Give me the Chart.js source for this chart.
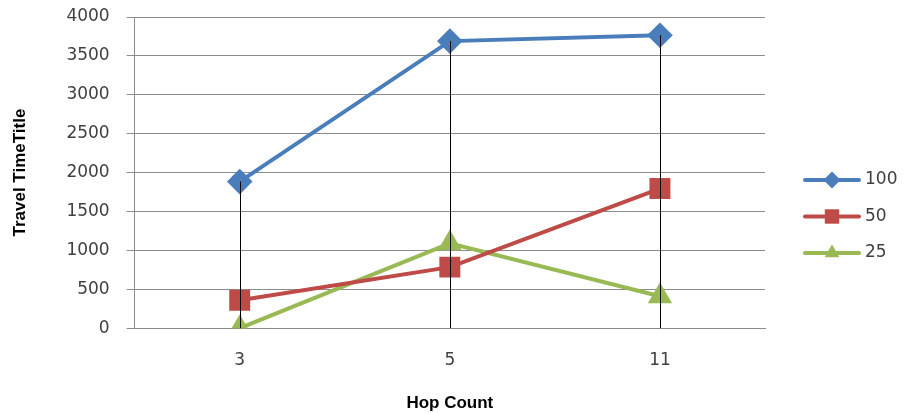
<!DOCTYPE html>
<html>
<head>
<meta charset="utf-8">
<script src="https://cdn.jsdelivr.net/npm/chart.js@4.4.0/dist/chart.umd.min.js"></script>
<style>
  html, body { margin: 0; padding: 0; background: #fff; }
  #wrap { width: 908px; height: 414px; }
</style>
</head>
<body>
<div id="wrap"><canvas id="lineChart" width="908" height="414"></canvas></div>
<script>
// Hop count categories and travel time per series
const hopCounts = ['3', '5', '11'];
const series100 = [1885, 3690, 3765];
const series50 = [360, 785, 1795];
const series25 = [0, 1090, 410];
const seriesNames = ['100', '50', '25'];
const yTicks = [0, 500, 1000, 1500, 2000, 2500, 3000, 3500, 4000];

const tickFont = { family: '"DejaVu Sans", Verdana, sans-serif', size: 17 };
const titleFont = { family: '"Liberation Sans Narrow", "Liberation Sans", Arial, sans-serif', size: 17, weight: 'bold' };

// Drop lines: black vertical line from highest point of each category down to the axis
const dropLines = {
  id: 'dropLines',
  afterDatasetsDraw(chart) {
    const ctx = chart.ctx;
    const x = chart.scales.x, y = chart.scales.y;
    ctx.save();
    ctx.strokeStyle = '#000';
    ctx.lineWidth = 1;
    hopCounts.forEach((c, i) => {
      const top = Math.max(...chart.data.datasets.map(d => d.data[i]));
      const px = Math.round(x.getPixelForValue(i)) + 0.5;
      ctx.beginPath();
      ctx.moveTo(px, y.getPixelForValue(top));
      ctx.lineTo(px, y.getPixelForValue(0));
      ctx.stroke();
    });
    ctx.restore();
  }
};

// Excel style legend: line with marker, then the label
const sideLegend = {
  id: 'sideLegend',
  afterDraw(chart) {
    const ctx = chart.ctx;
    const area = chart.chartArea;
    const x0 = area.right + 40;
    ctx.save();
    chart.data.datasets.forEach((ds, i) => {
      const yy = area.top + 163 + i * 36.5;
      ctx.strokeStyle = ds.borderColor;
      ctx.lineWidth = 4;
      ctx.lineCap = 'round';
      ctx.beginPath();
      ctx.moveTo(x0, yy);
      ctx.lineTo(x0 + 54, yy);
      ctx.stroke();
      ctx.fillStyle = ds.backgroundColor;
      Chart.helpers.drawPoint(ctx, { pointStyle: ds.pointStyle, radius: ds.pointRadius * 0.85, borderWidth: 0, rotation: 0 }, x0 + 27, yy);
      ctx.fillStyle = '#404040';
      ctx.font = tickFont.size + 'px ' + tickFont.family;
      ctx.textBaseline = 'middle';
      ctx.textAlign = 'left';
      ctx.fillText(ds.label, x0 + 60, yy);
    });
    ctx.restore();
  }
};

new Chart(document.getElementById('lineChart').getContext('2d'), {
  type: 'line',
  data: {
    labels: hopCounts,
    datasets: [
      { label: seriesNames[0], data: series100, borderColor: '#4a7ebb', backgroundColor: '#4a7ebb', pointStyle: 'rectRot', pointRadius: 10, borderWidth: 4 },
      { label: seriesNames[1], data: series50, borderColor: '#be4b48', backgroundColor: '#be4b48', pointStyle: 'rect', pointRadius: 12, borderWidth: 4 },
      { label: seriesNames[2], data: series25, borderColor: '#98b954', backgroundColor: '#98b954', pointStyle: 'triangle', pointRadius: 10, borderWidth: 4 }
    ]
  },
  options: {
    responsive: false,
    animation: false,
    layout: { autoPadding: false, padding: { left: 10, top: 17, right: 143, bottom: 0 } },
    elements: { point: { borderWidth: 0, hoverRadius: 10 }, line: { tension: 0 } },
    plugins: { legend: { display: false }, tooltip: { enabled: false } },
    scales: {
      x: {
        offset: true,
        grid: { display: false },
        border: { display: true, color: '#8c8c8c', width: 1 },
        ticks: { font: tickFont, color: '#404040', padding: 14 },
        title: { display: true, text: 'Hop Count', font: titleFont, color: '#000', padding: { top: 9, bottom: 0 } }
      },
      y: {
        min: 0,
        max: 4000,
        afterBuildTicks(scale) { scale.ticks = yTicks.map(v => ({ value: v })); },
        afterFit(scale) { scale.paddingTop = 0; scale.paddingBottom = 0; },
        grid: { color: '#8c8c8c', tickLength: 8, lineWidth: 1 },
        border: { display: true, color: '#8c8c8c' },
        ticks: { font: tickFont, color: '#404040', padding: 17, callback: v => String(v) },
        title: { display: true, text: 'Travel TimeTitle', font: titleFont, color: '#000', padding: { top: 0, bottom: 19 } }
      }
    }
  },
  plugins: [dropLines, sideLegend]
});
</script>
</body>
</html>
